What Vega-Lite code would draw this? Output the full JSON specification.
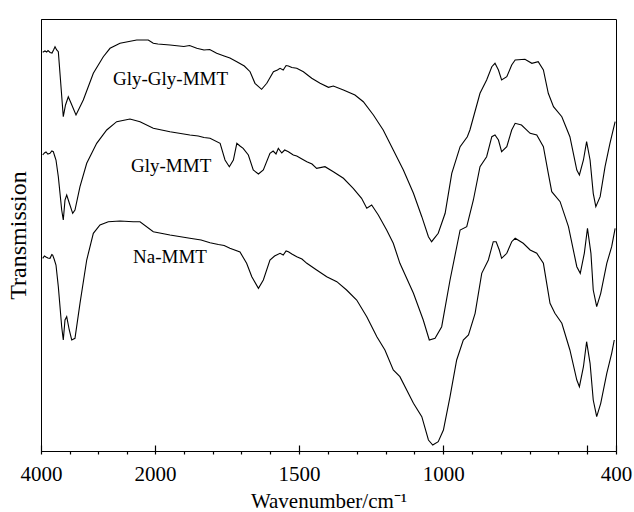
{
  "$schema": "https://vega.github.io/schema/vega-lite/v6.json",
  "width": 575,
  "height": 432,
  "autosize": "none",
  "padding": {"left": 41, "top": 19, "right": 18, "bottom": 61},
  "background": "white",
  "config": {
    "view": {"stroke": "black", "strokeWidth": 1},
    "axis": {"grid": false, "domainColor": "black", "tickColor": "black", "labelColor": "black", "titleColor": "black", "labelFont": "Liberation Serif", "titleFont": "Liberation Serif", "titleFontWeight": "normal"}
  },
  "datasets": {
    "spectra": [
      {"s":"Gly-Gly-MMT","w":3970,"t":398.7},{"s":"Gly-Gly-MMT","w":3930,"t":400},{"s":"Gly-Gly-MMT","w":3900,"t":399},{"s":"Gly-Gly-MMT","w":3877,"t":400.5},{"s":"Gly-Gly-MMT","w":3840,"t":398.5},{"s":"Gly-Gly-MMT","w":3807,"t":398},{"s":"Gly-Gly-MMT","w":3780,"t":401},{"s":"Gly-Gly-MMT","w":3754,"t":404.3},{"s":"Gly-Gly-MMT","w":3725,"t":401},{"s":"Gly-Gly-MMT","w":3696,"t":399.3},{"s":"Gly-Gly-MMT","w":3658,"t":371},{"s":"Gly-Gly-MMT","w":3609,"t":334.3},{"s":"Gly-Gly-MMT","w":3570,"t":346},{"s":"Gly-Gly-MMT","w":3521,"t":354.3},{"s":"Gly-Gly-MMT","w":3474,"t":348},{"s":"Gly-Gly-MMT","w":3386,"t":336},{"s":"Gly-Gly-MMT","w":3258,"t":351},{"s":"Gly-Gly-MMT","w":3082,"t":377.7},{"s":"Gly-Gly-MMT","w":2907,"t":394.3},{"s":"Gly-Gly-MMT","w":2789,"t":402.7},{"s":"Gly-Gly-MMT","w":2614,"t":407.7},{"s":"Gly-Gly-MMT","w":2321,"t":411},{"s":"Gly-Gly-MMT","w":2118,"t":411},{"s":"Gly-Gly-MMT","w":2030,"t":407.7},{"s":"Gly-Gly-MMT","w":1990,"t":407},{"s":"Gly-Gly-MMT","w":1948,"t":406},{"s":"Gly-Gly-MMT","w":1900,"t":404.5},{"s":"Gly-Gly-MMT","w":1880,"t":405.5},{"s":"Gly-Gly-MMT","w":1855,"t":402.7},{"s":"Gly-Gly-MMT","w":1830,"t":401},{"s":"Gly-Gly-MMT","w":1810,"t":401.5},{"s":"Gly-Gly-MMT","w":1786,"t":397.7},{"s":"Gly-Gly-MMT","w":1760,"t":395},{"s":"Gly-Gly-MMT","w":1740,"t":393},{"s":"Gly-Gly-MMT","w":1716,"t":389.3},{"s":"Gly-Gly-MMT","w":1690,"t":385},{"s":"Gly-Gly-MMT","w":1670,"t":379.3},{"s":"Gly-Gly-MMT","w":1653,"t":367.7},{"s":"Gly-Gly-MMT","w":1630,"t":361.7},{"s":"Gly-Gly-MMT","w":1612,"t":367.7},{"s":"Gly-Gly-MMT","w":1589,"t":379.3},{"s":"Gly-Gly-MMT","w":1575,"t":381},{"s":"Gly-Gly-MMT","w":1566,"t":382.7},{"s":"Gly-Gly-MMT","w":1555,"t":381},{"s":"Gly-Gly-MMT","w":1545,"t":385.5},{"s":"Gly-Gly-MMT","w":1537,"t":385},{"s":"Gly-Gly-MMT","w":1525,"t":383.5},{"s":"Gly-Gly-MMT","w":1508,"t":382.7},{"s":"Gly-Gly-MMT","w":1485,"t":379.3},{"s":"Gly-Gly-MMT","w":1456,"t":372.7},{"s":"Gly-Gly-MMT","w":1427,"t":367.7},{"s":"Gly-Gly-MMT","w":1398,"t":363.7},{"s":"Gly-Gly-MMT","w":1381,"t":365},{"s":"Gly-Gly-MMT","w":1346,"t":361},{"s":"Gly-Gly-MMT","w":1306,"t":356},{"s":"Gly-Gly-MMT","w":1277,"t":349.3},{"s":"Gly-Gly-MMT","w":1242,"t":336},{"s":"Gly-Gly-MMT","w":1208,"t":321},{"s":"Gly-Gly-MMT","w":1173,"t":301},{"s":"Gly-Gly-MMT","w":1138,"t":281},{"s":"Gly-Gly-MMT","w":1103,"t":257.7},{"s":"Gly-Gly-MMT","w":1074,"t":234.3},{"s":"Gly-Gly-MMT","w":1051,"t":214.3},{"s":"Gly-Gly-MMT","w":1040,"t":209.3},{"s":"Gly-Gly-MMT","w":1017,"t":217.7},{"s":"Gly-Gly-MMT","w":993,"t":237.7},{"s":"Gly-Gly-MMT","w":970,"t":277.7},{"s":"Gly-Gly-MMT","w":941,"t":304.3},{"s":"Gly-Gly-MMT","w":916,"t":314.3},{"s":"Gly-Gly-MMT","w":907,"t":321},{"s":"Gly-Gly-MMT","w":872,"t":357.7},{"s":"Gly-Gly-MMT","w":849,"t":371},{"s":"Gly-Gly-MMT","w":831,"t":384.3},{"s":"Gly-Gly-MMT","w":820,"t":387.7},{"s":"Gly-Gly-MMT","w":808,"t":381},{"s":"Gly-Gly-MMT","w":797,"t":371},{"s":"Gly-Gly-MMT","w":779,"t":374.3},{"s":"Gly-Gly-MMT","w":762,"t":386},{"s":"Gly-Gly-MMT","w":750,"t":391},{"s":"Gly-Gly-MMT","w":716,"t":391.7},{"s":"Gly-Gly-MMT","w":692,"t":387.7},{"s":"Gly-Gly-MMT","w":670,"t":389.3},{"s":"Gly-Gly-MMT","w":652,"t":381},{"s":"Gly-Gly-MMT","w":635,"t":357.7},{"s":"Gly-Gly-MMT","w":617,"t":344.3},{"s":"Gly-Gly-MMT","w":588,"t":334.3},{"s":"Gly-Gly-MMT","w":560,"t":314.3},{"s":"Gly-Gly-MMT","w":536,"t":281},{"s":"Gly-Gly-MMT","w":527,"t":276},{"s":"Gly-Gly-MMT","w":513,"t":291},{"s":"Gly-Gly-MMT","w":502,"t":309.3},{"s":"Gly-Gly-MMT","w":490,"t":291},{"s":"Gly-Gly-MMT","w":479,"t":257.7},{"s":"Gly-Gly-MMT","w":470,"t":244.3},{"s":"Gly-Gly-MMT","w":455,"t":254.3},{"s":"Gly-Gly-MMT","w":438,"t":284.3},{"s":"Gly-Gly-MMT","w":421,"t":307.7},{"s":"Gly-Gly-MMT","w":403,"t":329.3},
      {"s":"Gly-MMT","w":3970,"t":296},{"s":"Gly-MMT","w":3940,"t":298},{"s":"Gly-MMT","w":3912,"t":299},{"s":"Gly-MMT","w":3880,"t":297},{"s":"Gly-MMT","w":3842,"t":297.7},{"s":"Gly-MMT","w":3810,"t":300},{"s":"Gly-MMT","w":3784,"t":299.3},{"s":"Gly-MMT","w":3760,"t":295},{"s":"Gly-MMT","w":3737,"t":291},{"s":"Gly-MMT","w":3696,"t":274.3},{"s":"Gly-MMT","w":3637,"t":241},{"s":"Gly-MMT","w":3609,"t":231},{"s":"Gly-MMT","w":3579,"t":251},{"s":"Gly-MMT","w":3549,"t":256},{"s":"Gly-MMT","w":3504,"t":248},{"s":"Gly-MMT","w":3444,"t":237.7},{"s":"Gly-MMT","w":3404,"t":241},{"s":"Gly-MMT","w":3316,"t":264.3},{"s":"Gly-MMT","w":3198,"t":287.7},{"s":"Gly-MMT","w":3023,"t":307.7},{"s":"Gly-MMT","w":2847,"t":321},{"s":"Gly-MMT","w":2672,"t":329.3},{"s":"Gly-MMT","w":2439,"t":332},{"s":"Gly-MMT","w":2263,"t":329.3},{"s":"Gly-MMT","w":2030,"t":322.7},{"s":"Gly-MMT","w":1948,"t":319.3},{"s":"Gly-MMT","w":1879,"t":316},{"s":"Gly-MMT","w":1850,"t":315},{"s":"Gly-MMT","w":1830,"t":313.5},{"s":"Gly-MMT","w":1809,"t":312.7},{"s":"Gly-MMT","w":1774,"t":307.7},{"s":"Gly-MMT","w":1757,"t":291},{"s":"Gly-MMT","w":1742,"t":284.3},{"s":"Gly-MMT","w":1728,"t":291},{"s":"Gly-MMT","w":1716,"t":307.7},{"s":"Gly-MMT","w":1705,"t":305},{"s":"Gly-MMT","w":1694,"t":302.7},{"s":"Gly-MMT","w":1676,"t":296},{"s":"Gly-MMT","w":1659,"t":281},{"s":"Gly-MMT","w":1641,"t":277},{"s":"Gly-MMT","w":1624,"t":281},{"s":"Gly-MMT","w":1601,"t":297.7},{"s":"Gly-MMT","w":1590,"t":300},{"s":"Gly-MMT","w":1580,"t":297},{"s":"Gly-MMT","w":1572,"t":302.7},{"s":"Gly-MMT","w":1560,"t":298},{"s":"Gly-MMT","w":1550,"t":301},{"s":"Gly-MMT","w":1537,"t":299.3},{"s":"Gly-MMT","w":1520,"t":296},{"s":"Gly-MMT","w":1508,"t":295},{"s":"Gly-MMT","w":1490,"t":292},{"s":"Gly-MMT","w":1473,"t":289.3},{"s":"Gly-MMT","w":1455,"t":287},{"s":"Gly-MMT","w":1439,"t":282.7},{"s":"Gly-MMT","w":1410,"t":284.3},{"s":"Gly-MMT","w":1381,"t":279.3},{"s":"Gly-MMT","w":1346,"t":272.7},{"s":"Gly-MMT","w":1312,"t":262.7},{"s":"Gly-MMT","w":1283,"t":252.7},{"s":"Gly-MMT","w":1265,"t":242.7},{"s":"Gly-MMT","w":1248,"t":246},{"s":"Gly-MMT","w":1225,"t":236},{"s":"Gly-MMT","w":1196,"t":221},{"s":"Gly-MMT","w":1173,"t":207.7},{"s":"Gly-MMT","w":1150,"t":187.7},{"s":"Gly-MMT","w":1103,"t":157.7},{"s":"Gly-MMT","w":1069,"t":131},{"s":"Gly-MMT","w":1048,"t":111},{"s":"Gly-MMT","w":1028,"t":112.7},{"s":"Gly-MMT","w":1005,"t":124.3},{"s":"Gly-MMT","w":976,"t":171},{"s":"Gly-MMT","w":941,"t":221},{"s":"Gly-MMT","w":918,"t":224.3},{"s":"Gly-MMT","w":895,"t":251},{"s":"Gly-MMT","w":872,"t":284.3},{"s":"Gly-MMT","w":849,"t":294.3},{"s":"Gly-MMT","w":831,"t":314.3},{"s":"Gly-MMT","w":820,"t":316},{"s":"Gly-MMT","w":808,"t":311},{"s":"Gly-MMT","w":797,"t":299.3},{"s":"Gly-MMT","w":779,"t":304.3},{"s":"Gly-MMT","w":762,"t":321},{"s":"Gly-MMT","w":750,"t":327.7},{"s":"Gly-MMT","w":728,"t":326},{"s":"Gly-MMT","w":698,"t":317.7},{"s":"Gly-MMT","w":675,"t":316},{"s":"Gly-MMT","w":652,"t":304.3},{"s":"Gly-MMT","w":635,"t":277.7},{"s":"Gly-MMT","w":623,"t":259.3},{"s":"Gly-MMT","w":594,"t":249.3},{"s":"Gly-MMT","w":565,"t":224.3},{"s":"Gly-MMT","w":536,"t":184.3},{"s":"Gly-MMT","w":524,"t":177.7},{"s":"Gly-MMT","w":510,"t":197.7},{"s":"Gly-MMT","w":499,"t":222.7},{"s":"Gly-MMT","w":487,"t":197.7},{"s":"Gly-MMT","w":479,"t":161},{"s":"Gly-MMT","w":467,"t":144.3},{"s":"Gly-MMT","w":453,"t":157.7},{"s":"Gly-MMT","w":432,"t":187.7},{"s":"Gly-MMT","w":415,"t":204.3},{"s":"Gly-MMT","w":403,"t":222.7},
      {"s":"Na-MMT","w":3970,"t":192.7},{"s":"Na-MMT","w":3940,"t":195},{"s":"Na-MMT","w":3912,"t":194},{"s":"Na-MMT","w":3880,"t":193},{"s":"Na-MMT","w":3842,"t":192.7},{"s":"Na-MMT","w":3810,"t":196.5},{"s":"Na-MMT","w":3795,"t":196},{"s":"Na-MMT","w":3770,"t":192},{"s":"Na-MMT","w":3737,"t":186},{"s":"Na-MMT","w":3696,"t":164.3},{"s":"Na-MMT","w":3637,"t":124.3},{"s":"Na-MMT","w":3609,"t":111},{"s":"Na-MMT","w":3579,"t":131},{"s":"Na-MMT","w":3549,"t":134.3},{"s":"Na-MMT","w":3504,"t":121},{"s":"Na-MMT","w":3461,"t":111},{"s":"Na-MMT","w":3404,"t":112.7},{"s":"Na-MMT","w":3316,"t":147.7},{"s":"Na-MMT","w":3198,"t":191},{"s":"Na-MMT","w":3082,"t":217.7},{"s":"Na-MMT","w":2965,"t":226},{"s":"Na-MMT","w":2819,"t":229.3},{"s":"Na-MMT","w":2614,"t":230},{"s":"Na-MMT","w":2381,"t":229.3},{"s":"Na-MMT","w":2263,"t":229.3},{"s":"Na-MMT","w":2030,"t":219.3},{"s":"Na-MMT","w":1948,"t":216},{"s":"Na-MMT","w":1879,"t":212.7},{"s":"Na-MMT","w":1840,"t":211},{"s":"Na-MMT","w":1809,"t":208.3},{"s":"Na-MMT","w":1780,"t":206.5},{"s":"Na-MMT","w":1760,"t":205.5},{"s":"Na-MMT","w":1740,"t":202.7},{"s":"Na-MMT","w":1705,"t":199},{"s":"Na-MMT","w":1682,"t":187.7},{"s":"Na-MMT","w":1664,"t":174.3},{"s":"Na-MMT","w":1641,"t":162.7},{"s":"Na-MMT","w":1624,"t":171},{"s":"Na-MMT","w":1601,"t":191},{"s":"Na-MMT","w":1585,"t":195},{"s":"Na-MMT","w":1566,"t":197.7},{"s":"Na-MMT","w":1555,"t":196},{"s":"Na-MMT","w":1545,"t":200},{"s":"Na-MMT","w":1537,"t":199.3},{"s":"Na-MMT","w":1525,"t":197},{"s":"Na-MMT","w":1508,"t":194.3},{"s":"Na-MMT","w":1490,"t":192},{"s":"Na-MMT","w":1473,"t":187.7},{"s":"Na-MMT","w":1439,"t":181},{"s":"Na-MMT","w":1404,"t":174.3},{"s":"Na-MMT","w":1369,"t":169.3},{"s":"Na-MMT","w":1335,"t":161},{"s":"Na-MMT","w":1300,"t":151},{"s":"Na-MMT","w":1265,"t":134.3},{"s":"Na-MMT","w":1230,"t":114.3},{"s":"Na-MMT","w":1202,"t":101},{"s":"Na-MMT","w":1173,"t":81},{"s":"Na-MMT","w":1150,"t":74.3},{"s":"Na-MMT","w":1103,"t":47.7},{"s":"Na-MMT","w":1074,"t":34.3},{"s":"Na-MMT","w":1051,"t":11},{"s":"Na-MMT","w":1036,"t":6},{"s":"Na-MMT","w":1017,"t":9.3},{"s":"Na-MMT","w":999,"t":21},{"s":"Na-MMT","w":976,"t":54.3},{"s":"Na-MMT","w":953,"t":91},{"s":"Na-MMT","w":930,"t":111},{"s":"Na-MMT","w":912,"t":116},{"s":"Na-MMT","w":889,"t":137.7},{"s":"Na-MMT","w":866,"t":177.7},{"s":"Na-MMT","w":843,"t":191},{"s":"Na-MMT","w":826,"t":209.3},{"s":"Na-MMT","w":816,"t":209.3},{"s":"Na-MMT","w":805,"t":201},{"s":"Na-MMT","w":797,"t":192.7},{"s":"Na-MMT","w":779,"t":197.7},{"s":"Na-MMT","w":762,"t":209.3},{"s":"Na-MMT","w":750,"t":212.7},{"s":"Na-MMT","w":722,"t":207.7},{"s":"Na-MMT","w":698,"t":201},{"s":"Na-MMT","w":675,"t":197.7},{"s":"Na-MMT","w":652,"t":187.7},{"s":"Na-MMT","w":629,"t":147.7},{"s":"Na-MMT","w":612,"t":137.7},{"s":"Na-MMT","w":588,"t":127.7},{"s":"Na-MMT","w":560,"t":101},{"s":"Na-MMT","w":536,"t":71},{"s":"Na-MMT","w":527,"t":64.3},{"s":"Na-MMT","w":513,"t":84.3},{"s":"Na-MMT","w":502,"t":109.3},{"s":"Na-MMT","w":490,"t":87.7},{"s":"Na-MMT","w":479,"t":51},{"s":"Na-MMT","w":467,"t":34.3},{"s":"Na-MMT","w":453,"t":47.7},{"s":"Na-MMT","w":432,"t":77.7},{"s":"Na-MMT","w":415,"t":97.7},{"s":"Na-MMT","w":406,"t":111}
    ],
    "labels": [
      {"w":1946,"t":366,"label":"Gly-Gly-MMT"},
      {"w":1944,"t":279,"label":"Gly-MMT"},
      {"w":1948,"t":188,"label":"Na-MMT"}
    ]
  },
  "resolve": {"axis": {"x": "independent", "y": "independent"}},
  "layer": [
    {
      "data": {"name": "spectra"},
      "mark": {"type": "line", "color": "black", "strokeWidth": 1.1},
      "encoding": {
        "x": {"field": "w", "type": "quantitative",
              "scale": {"type": "linear", "domain": [4000, 2000, 400], "range": [0, 114, 575], "nice": false, "zero": false},
              "axis": {"orient": "bottom", "tickCount": 36, "ticks": true, "tickSize": 3, "tickWidth": 1.2,
                       "tickOpacity": {"condition": {"test": "datum.value > 2000 && datum.value % 500 != 0", "value": 0}, "value": 1},
                       "labelFlush": false, "labelFontSize": 21, "labelPadding": 9, "labelOverlap": false, "labelBound": false,
                       "labelExpr": "indexof([4000, 2000, 1500, 1000, 400], datum.value) >= 0 ? format(datum.value, 'd') : ''",
                       "title": "Wavenumber/cm⁻¹", "titleFontSize": 21, "titlePadding": 6}},
        "y": {"field": "t", "type": "quantitative",
              "scale": {"domain": [0, 432], "nice": false, "zero": false},
              "axis": {"orient": "left", "ticks": false, "labels": false, "title": "Transmission", "titleFontSize": 24, "titlePadding": 11}},
        "detail": {"field": "s"}
      }
    },
    {
      "data": {"name": "spectra"},
      "mark": {"type": "point", "opacity": 0},
      "encoding": {
        "x": {"field": "w", "type": "quantitative",
              "axis": {"orient": "bottom", "values": [4000, 2000, 1500, 1000, 500, 400], "ticks": true, "tickSize": -6, "tickWidth": 1.2,
                       "labels": false, "domain": false, "title": null}},
        "y": {"field": "t", "type": "quantitative", "axis": null}
      }
    },
    {
      "data": {"name": "labels"},
      "mark": {"type": "text", "align": "center", "baseline": "alphabetic", "font": "Liberation Serif", "fontSize": 19, "color": "black"},
      "encoding": {
        "x": {"field": "w", "type": "quantitative", "axis": null},
        "y": {"field": "t", "type": "quantitative", "axis": null},
        "text": {"field": "label"}
      }
    }
  ]
}
